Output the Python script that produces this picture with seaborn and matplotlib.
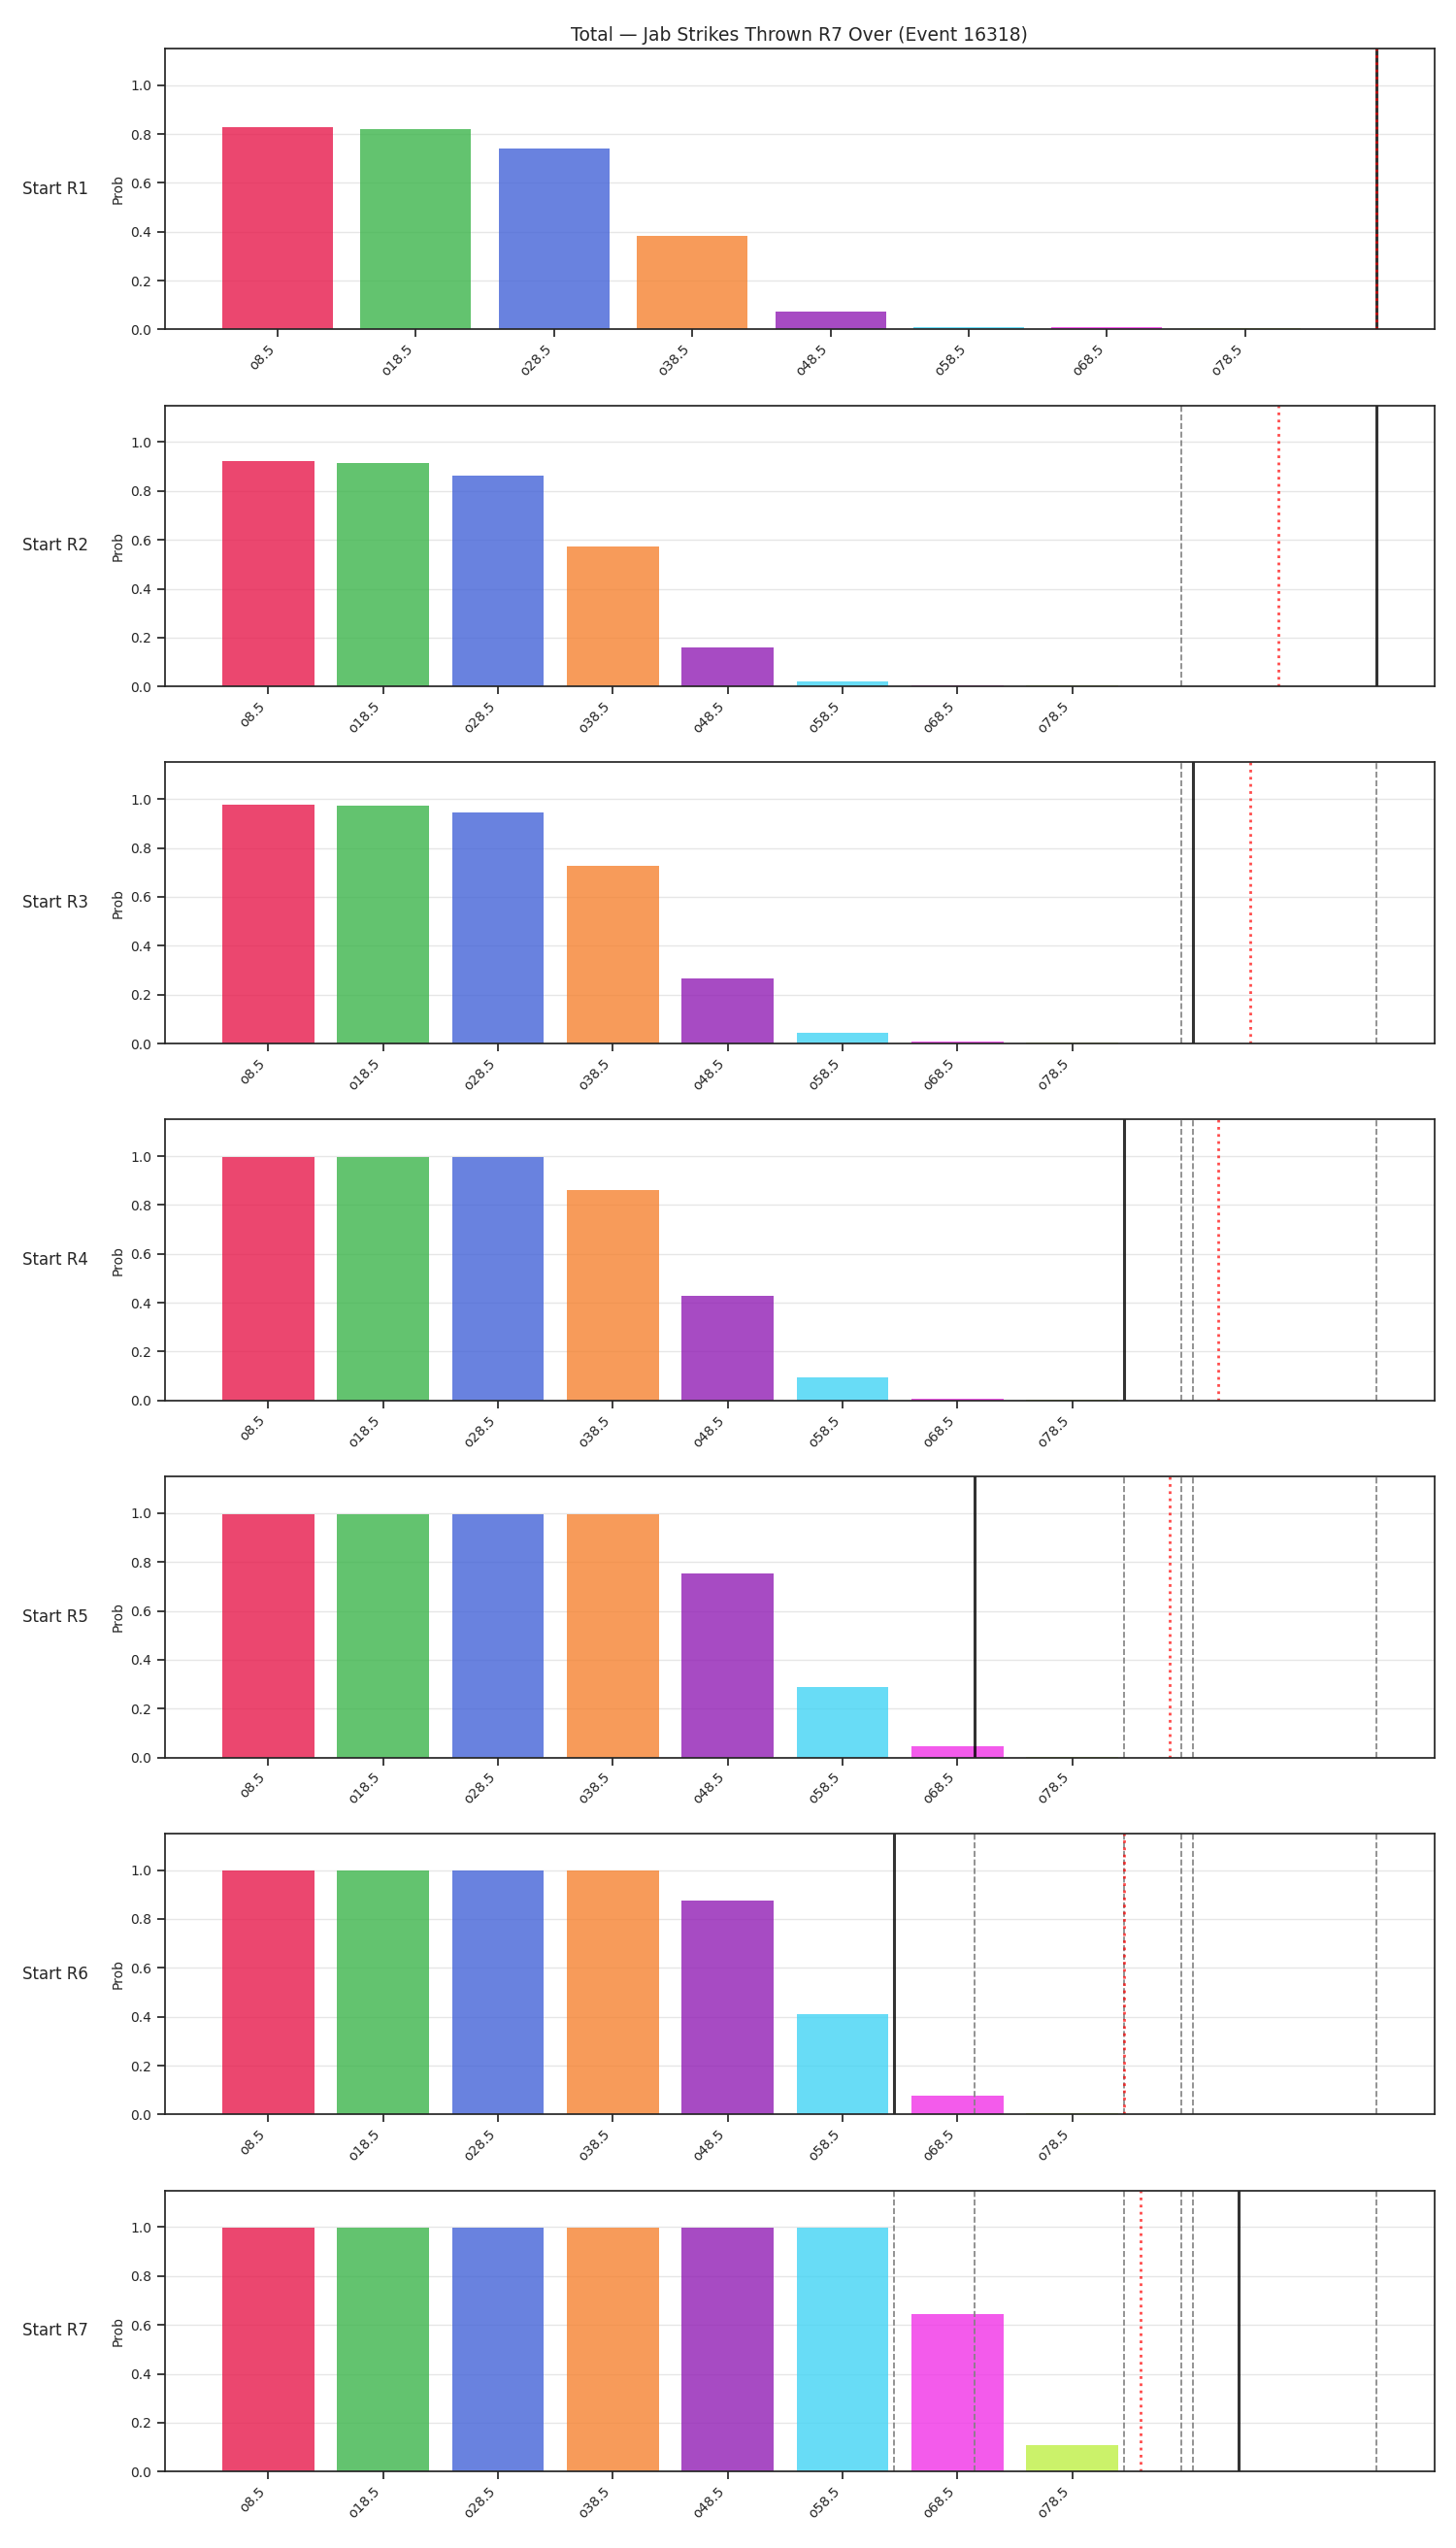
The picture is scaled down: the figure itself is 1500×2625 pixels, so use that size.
import matplotlib
matplotlib.use("Agg")
import matplotlib.pyplot as plt
import seaborn as sns
import pandas as pd

# ---- data ----
lines = [8.5, 18.5, 28.5, 38.5, 48.5, 58.5, 68.5, 78.5]
tick_labels = ["o8.5", "o18.5", "o28.5", "o38.5", "o48.5", "o58.5", "o68.5", "o78.5"]
rounds = ["R1", "R2", "R3", "R4", "R5", "R6", "R7"]

prob_r1 = [0.827, 0.819, 0.741, 0.383, 0.075, 0.009, 0.008, 0.007]
prob_r2 = [0.921, 0.913, 0.861, 0.572, 0.160, 0.019, 0.007, 0.005]
prob_r3 = [0.976, 0.972, 0.944, 0.725, 0.267, 0.045, 0.008, 0.005]
prob_r4 = [0.996, 0.996, 0.996, 0.861, 0.430, 0.094, 0.008, 0.005]
prob_r5 = [0.997, 0.997, 0.997, 0.997, 0.752, 0.288, 0.046, 0.004]
prob_r6 = [0.998, 0.998, 0.998, 0.998, 0.875, 0.410, 0.077, 0.004]
prob_r7 = [0.999, 0.999, 0.999, 0.999, 0.999, 0.999, 0.644, 0.108]
probs = [prob_r1, prob_r2, prob_r3, prob_r4, prob_r5, prob_r6, prob_r7]

# actual value at each round start (solid), previous ones shown dashed
actual = [88, 105, 89, 83, 70, 63, 93]
# running projection (dotted red)
projection = [88, 96.5, 94.0, 91.25, 87.0, 83.0, 84.43]

palette = ["#e6194b", "#3cb44b", "#4363d8", "#f58231",
           "#911eb4", "#42d4f4", "#f032e6", "#bfef45"]

title = "Total \u2014 Jab Strikes Thrown R7 Over (Event 16318)"

# ---- plot ----
sns.set_theme(style="ticks", context="notebook")
plt.rcParams["font.family"] = ["DejaVu Sans"]

fig, axes = plt.subplots(len(rounds), 1, figsize=(15, 26.25), dpi=100)
fig.subplots_adjust(left=0.113, right=0.985, top=0.981, bottom=0.030, hspace=0.27)

for k, ax in enumerate(axes):
    df = pd.DataFrame({"line": lines, "prob": probs[k], "lab": tick_labels})
    sns.barplot(data=df, x="line", y="prob", hue="lab", palette=palette,
                native_scale=True, alpha=0.8, saturation=1, linewidth=0,
                legend=False, ax=ax)
    for prev in actual[:k]:
        ax.axvline(prev, color="gray", linestyle="--", linewidth=1.2)
    ax.axvline(actual[k], color="black", alpha=0.8, linewidth=2.2)
    ax.axvline(projection[k], color="red", alpha=0.7, linestyle=":", linewidth=2)

    ax.set_ylim(0, 1.15)
    ax.set_yticks([0.0, 0.2, 0.4, 0.6, 0.8, 1.0])
    ax.set_xticks(lines)
    ax.set_xticklabels(tick_labels, rotation=45, ha="right")
    ax.tick_params(axis="both", labelsize=10)
    ax.set_xlabel("")
    ax.set_ylabel("Prob", fontsize=10)
    ax.grid(axis="y", color="#e6e6e6", linewidth=1)
    for s in ax.spines.values():
        s.set_visible(True)
    ax.text(-0.06, 0.5, f"Start {rounds[k]}", transform=ax.transAxes,
            ha="right", va="center", fontsize=12)
    if k == 0:
        ax.set_title(title, fontsize=13.5)

fig.savefig("out.png", dpi=100)
